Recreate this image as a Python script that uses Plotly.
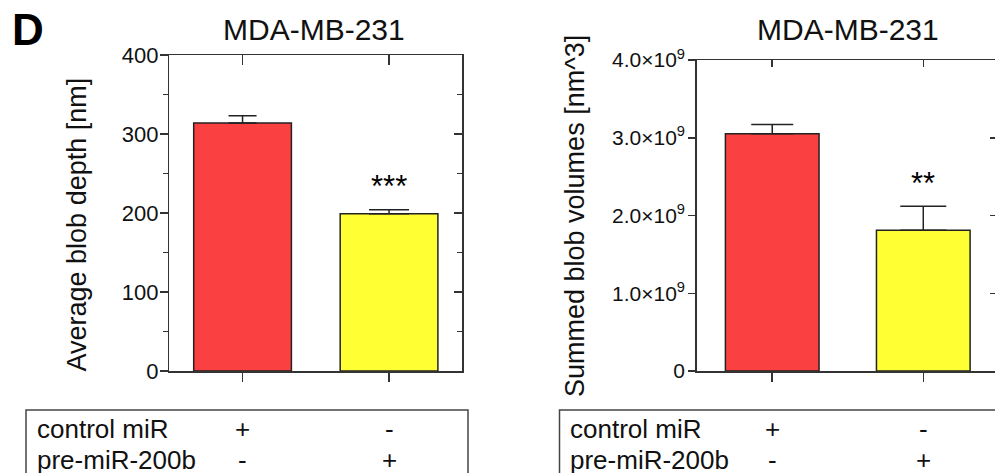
import plotly.graph_objects as go

W, H = 995, 473

# ---------------- data ----------------
categories = [0, 1]
depth_mean = [314, 199]
depth_err = [9, 5]
depth_sig = ["", "***"]
volume_mean = [3.05e9, 1.81e9]
volume_err = [0.12e9, 0.31e9]
volume_sig = ["", "**"]
bar_colors = ["#FA4040", "#FFFF33"]
panel_title = "MDA-MB-231"
depth_label = "Average blob depth [nm]"
volume_label = "Summed blob volumes [nm^3]"
depth_ticks = [0, 100, 200, 300, 400]
depth_minor = [50, 150, 250, 350]
volume_ticks = [0, 1e9, 2e9, 3e9, 4e9]
volume_ticktext = ["0", "1.0×10<sup>9</sup>", "2.0×10<sup>9</sup>",
                   "3.0×10<sup>9</sup>", "4.0×10<sup>9</sup>"]
row_labels = ["control miR", "pre-miR-200b"]
row_signs = [["+", "-"], ["-", "+"]]

FONT = "Liberation Sans, Arial, sans-serif"
LINE = "#333333"
TXT = "#111111"


def px_x(p):
    return p / W


def px_y(p):
    return 1 - p / H


fig = go.Figure()

# left panel bars
depth_capw = [14, 20]
for i in range(2):
    fig.add_trace(go.Bar(
        x=[categories[i]], y=[depth_mean[i]], width=0.667,
        marker=dict(color=bar_colors[i], line=dict(color="#222222", width=1.5), opacity=1),
        error_y=dict(type="data", array=[depth_err[i]], arrayminus=[0], symmetric=False,
                     color="#222222", thickness=1.5, width=depth_capw[i]),
        xaxis="x", yaxis="y", showlegend=False, hoverinfo="skip"))

vol_capw = [21, 23]
for i in range(2):
    fig.add_trace(go.Bar(
        x=[categories[i]], y=[volume_mean[i]], width=0.62,
        marker=dict(color=bar_colors[i], line=dict(color="#222222", width=1.5), opacity=1),
        error_y=dict(type="data", array=[volume_err[i]], arrayminus=[0], symmetric=False,
                     color="#222222", thickness=1.5, width=vol_capw[i]),
        xaxis="x2", yaxis="y2", showlegend=False, hoverinfo="skip"))

# dummy traces so mirror axes are drawn
fig.add_trace(go.Scatter(x=[None], y=[None], xaxis="x3", yaxis="y3", showlegend=False, hoverinfo="skip"))
fig.add_trace(go.Scatter(x=[None], y=[None], xaxis="x4", yaxis="y4", showlegend=False, hoverinfo="skip"))

# geometry
L_x0, L_x1, L_top, L_bot = 169.3, 462.3, 55, 371
R_x0, R_top, R_bot = 696.7, 60, 371
R_xmax = 1.5 - (998.8 - 995) / 151.0

common_ax = dict(showgrid=False, zeroline=False, showline=True, linecolor=LINE, linewidth=1.5,
                 tickcolor=LINE, tickwidth=1.5, automargin=False)

fig.update_layout(
    width=W, height=H, margin=dict(l=0, r=0, t=0, b=0, pad=0), autosize=False,
    paper_bgcolor="white", plot_bgcolor="rgba(0,0,0,0)",
    barmode="overlay", font=dict(family=FONT, color=TXT),
    xaxis=dict(domain=[px_x(L_x0), px_x(L_x1)], range=[-0.5, 1.5], anchor="y",
               ticks="outside", ticklen=9, tickvals=categories, showticklabels=False, **common_ax),
    xaxis3=dict(overlaying="x", side="top", anchor="y", range=[-0.5, 1.5],
                ticks="inside", ticklen=10, tickvals=categories, showticklabels=False, **common_ax),
    yaxis=dict(domain=[px_y(L_bot), px_y(L_top)], range=[0, 400], anchor="x",
               ticks="outside", ticklen=8, tickvals=depth_ticks, ticklabelstandoff=-3,
               tickfont=dict(size=22, color=TXT, family=FONT),
               minor=dict(tickvals=depth_minor, ticks="outside", ticklen=5, tickwidth=1.5, tickcolor=LINE),
               **common_ax),
    yaxis3=dict(overlaying="y", side="right", anchor="x", range=[0, 400],
                ticks="inside", ticklen=8, tickvals=depth_ticks, showticklabels=False,
                minor=dict(tickvals=depth_minor, ticks="inside", ticklen=5, tickwidth=1.5, tickcolor=LINE),
                **common_ax),
    xaxis2=dict(domain=[px_x(R_x0), 1.0], range=[-0.5, R_xmax], anchor="y2",
                ticks="outside", ticklen=9, tickvals=categories, showticklabels=False, **common_ax),
    xaxis4=dict(overlaying="x2", side="top", anchor="y2", range=[-0.5, R_xmax],
                ticks="inside", ticklen=7, tickvals=categories, showticklabels=False, **common_ax),
    yaxis2=dict(domain=[px_y(R_bot), px_y(R_top)], range=[0, 4e9], anchor="x2",
                ticks="outside", ticklen=7, tickvals=volume_ticks, ticktext=volume_ticktext,
                ticklabelstandoff=-1,
                tickfont=dict(size=21, color=TXT, family=FONT), **common_ax),
    yaxis4=dict(overlaying="y2", side="right", anchor="x2", range=[0, 4e9],
                ticks="inside", ticklen=5, tickvals=volume_ticks, showticklabels=False,
                showgrid=False, zeroline=False, showline=False, tickcolor=LINE, tickwidth=1.5,
                automargin=False),
)

ann = []
# panel letter
ann.append(dict(text="<b>D</b>", x=px_x(10), y=px_y(29), xref="paper", yref="paper",
                xanchor="left", yanchor="middle", showarrow=False,
                font=dict(size=44, family=FONT, color="black")))
# titles
for cx in [313.5, 848]:
    ann.append(dict(text=panel_title, x=px_x(cx), y=px_y(29), xref="paper", yref="paper",
                    xanchor="center", yanchor="middle", showarrow=False,
                    font=dict(size=30, family=FONT, color=TXT)))
# y titles
ann.append(dict(text=depth_label, x=px_x(77), y=px_y(224.5), xref="paper", yref="paper",
                textangle=-90, xanchor="center", yanchor="middle", showarrow=False,
                font=dict(size=27, family=FONT, color=TXT)))
ann.append(dict(text=volume_label, x=px_x(575), y=px_y(216), xref="paper", yref="paper",
                textangle=-90, xanchor="center", yanchor="middle", showarrow=False,
                font=dict(size=27, family=FONT, color=TXT)))
# significance
for i in range(2):
    if depth_sig[i]:
        ann.append(dict(text=depth_sig[i], x=categories[i], y=depth_mean[i] + depth_err[i],
                        xref="x", yref="y", yanchor="middle", yshift=23, showarrow=False,
                        font=dict(size=31, family=FONT, color="black")))
    if volume_sig[i]:
        ann.append(dict(text=volume_sig[i], x=categories[i], y=volume_mean[i] + volume_err[i],
                        xref="x2", yref="y2", yanchor="middle", yshift=23, showarrow=False,
                        font=dict(size=31, family=FONT, color="black")))
# tables
row_y = [428.5, 460]
for lx, xr in [(35, "x"), (568, "x2")]:
    for r in range(2):
        ann.append(dict(text=row_labels[r], x=px_x(lx), y=px_y(row_y[r]), xref="paper", yref="paper",
                        xanchor="left", yanchor="middle", showarrow=False,
                        font=dict(size=26, family=FONT, color=TXT)))
        for c in range(2):
            ann.append(dict(text=row_signs[r][c], x=categories[c], y=px_y(row_y[r]), xref=xr, yref="paper",
                            xanchor="center", yanchor="middle", showarrow=False,
                            font=dict(size=26, family=FONT, color=TXT)))
fig.update_layout(annotations=ann)

fig.update_layout(shapes=[
    dict(type="rect", xref="paper", yref="paper", x0=px_x(26), x1=px_x(468), y0=px_y(410), y1=-0.2,
         line=dict(color="#444444", width=1.5), fillcolor="rgba(0,0,0,0)"),
    dict(type="rect", xref="paper", yref="paper", x0=px_x(559.5), x1=1.1, y0=px_y(410), y1=-0.2,
         line=dict(color="#444444", width=1.5), fillcolor="rgba(0,0,0,0)"),
])

fig.write_html(
    "out.html",
    config={"displayModeBar": False, "staticPlot": True},
    post_script="document.body.style.margin='0';document.body.style.padding='0';"
                "document.body.style.overflow='hidden';",
)
